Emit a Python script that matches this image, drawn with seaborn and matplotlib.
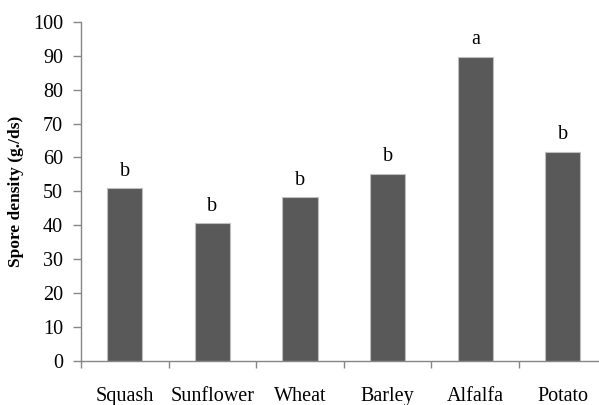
import numpy as np
import pandas as pd
import matplotlib
matplotlib.use("Agg")
import matplotlib.pyplot as plt
import seaborn as sns

crops = ["Squash", "Sunflower", "Wheat", "Barley", "Alfalfa", "Potato"]
density = [50.9, 40.5, 48.2, 55.2, 89.7, 61.7]
letters = ["b", "b", "b", "b", "a", "b"]

df = pd.DataFrame({"crop": crops, "density": density})

sns.set_style("white")
plt.rcParams["font.family"] = ["Liberation Serif", "DejaVu Serif"]
plt.rcParams["text.color"] = "black"
plt.rcParams["axes.labelcolor"] = "black"
plt.rcParams["xtick.color"] = "black"
plt.rcParams["ytick.color"] = "black"

fig = plt.figure(figsize=(5.99, 4.05), dpi=100)
ax = fig.add_axes([81 / 599, 44.4 / 405, 525.6 / 599, 338.6 / 405])

sns.barplot(data=df, x="crop", y="density", color="#595959", width=0.4,
            edgecolor="#bfbfbf", linewidth=0.8, saturation=1, ax=ax)

for i, (v, t) in enumerate(zip(density, letters)):
    ax.text(i, v + 2.2, t, ha="center", va="bottom", fontsize=14.5)

ax.set_ylim(0, 100)
ax.set_xlim(-0.5, 5.5)
ax.set_yticks(range(0, 101, 10))
ax.set_xticks(np.arange(-0.5, 5.6, 1), minor=True)
ax.tick_params(axis="x", which="major", bottom=False, length=0, pad=19, labelsize=14.5)
ax.tick_params(axis="x", which="minor", bottom=True, length=5, width=1, color="#868686", direction="out")
ax.tick_params(axis="y", left=True, length=6, width=1, color="#868686", labelcolor="black",
               direction="out", labelsize=14.5, pad=7)
ax.set_xlabel("")
ax.set_ylabel("Spore density (g./ds)", fontsize=12.5, fontweight="bold", labelpad=6)

for s in ["top", "right"]:
    ax.spines[s].set_visible(False)
for s in ["left", "bottom"]:
    ax.spines[s].set_color("#868686")
    ax.spines[s].set_linewidth(1)

fig.savefig("out.png", dpi=100)
